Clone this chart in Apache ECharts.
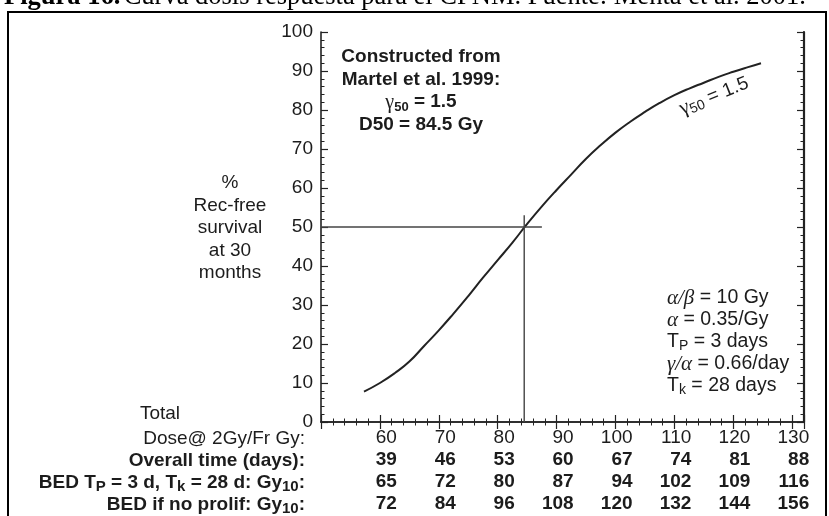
<!DOCTYPE html>
<html><head><meta charset="utf-8">
<script src="https://cdn.jsdelivr.net/npm/echarts@6/dist/echarts.min.js"></script>
<style>html,body{margin:0;padding:0;background:#fff}#c{width:829px;height:516px}</style>
</head><body><div id="c"></div>
<script>
// ---- data ----
const doseTicks = [60, 70, 80, 90, 100, 110, 120, 130];
const overallTime = [39, 46, 53, 60, 67, 74, 81, 88];
const bedProlif = [65, 72, 80, 87, 94, 102, 109, 116];
const bedNoProlif = [72, 84, 96, 108, 120, 132, 144, 156];
const curveDose = [57.3, 60, 62.5, 65, 67.5, 70, 72.5, 75, 77.5, 80, 82.5, 85, 87.5, 90, 92.5, 95, 97.5, 100, 102.5, 105, 107.5, 110, 112.5, 115, 117.5, 120, 122.5, 124.7];
const curveSurvival = [7.8, 10, 12.5, 15.5, 19.5, 23.5, 27.8, 32.3, 37, 41.5, 46, 50.8, 55.3, 59.5, 63.5, 67.5, 71, 74.2, 77, 79.5, 81.8, 83.8, 85.5, 87, 88.5, 89.8, 91, 92];
const hLineDose = [50, 87.5];
const hLineSurv = [50, 50];
const vLineDose = [84.5, 84.5];
const vLineSurv = [0, 53];
const rowLabels = [
  '{n|Dose@ 2Gy/Fr Gy:}',
  '{b|Overall time (days):}',
  '{b|BED T}{bs|P}{b| = 3 d, T}{bs|k}{b| = 28 d: Gy}{bs|10}{b|:}',
  '{b|BED if no prolif: Gy}{bs|10}{b|:}'
];

const FONT = '"Liberation Sans", Arial, Helvetica, sans-serif';
const SERIF = '"Liberation Serif", "Times New Roman", serif';
const TXT = '#1c1c1c';

const chart = echarts.init(document.getElementById('c'), null, {renderer: 'canvas'});

const pair = (xs, ys) => xs.map((x, i) => [x, ys[i]]);

const tickStyle = {show: true, inside: true, length: 7, lineStyle: {color: '#222', width: 1.2}};
const minorStyle = {show: true, splitNumber: 5, length: 3.5, lineStyle: {color: '#222', width: 1}};
const axisLineStyle = {show: true, lineStyle: {color: '#222', width: 1.6}};

const labelRich = {
  d: {fontSize: 19, fontFamily: FONT, color: TXT, width: 34, align: 'right', lineHeight: 22},
  b: {fontSize: 19, fontFamily: FONT, fontWeight: 'bold', color: TXT, width: 34, align: 'right', lineHeight: 22}
};

const option = {
  backgroundColor: '#fff',
  animation: false,
  grid: {left: 321, right: 25, top: 32, bottom: 94, containLabel: false},
  xAxis: [
    {
      type: 'value', min: 50, max: 132, interval: 10, position: 'bottom',
      axisLine: axisLineStyle, axisTick: tickStyle, minorTick: minorStyle,
      splitLine: {show: false},
      axisLabel: {
        show: true, margin: 5, showMinLabel: false, showMaxLabel: false,
        formatter: function (v) {
          const i = doseTicks.indexOf(v);
          if (i < 0) return '';
          return '{d|' + doseTicks[i] + '}\n{b|' + overallTime[i] + '}\n{b|' + bedProlif[i] + '}\n{b|' + bedNoProlif[i] + '}';
        },
        rich: labelRich
      }
    },
    {
      type: 'value', min: 50, max: 132, interval: 10, position: 'top',
      axisLine: axisLineStyle, axisTick: tickStyle, minorTick: minorStyle,
      splitLine: {show: false}, axisLabel: {show: false}
    }
  ],
  yAxis: [
    {
      type: 'value', min: 0, max: 100, interval: 10, position: 'left',
      axisLine: axisLineStyle, axisTick: tickStyle, minorTick: minorStyle,
      splitLine: {show: false},
      axisLabel: {show: true, margin: 8, fontSize: 19, fontFamily: FONT, color: TXT}
    },
    {
      type: 'value', min: 0, max: 100, interval: 10, position: 'right',
      axisLine: {show: true, lineStyle: {color: '#222', width: 2.2}}, axisTick: tickStyle, minorTick: minorStyle,
      splitLine: {show: false}, axisLabel: {show: false}
    }
  ],
  series: [
    {
      type: 'line', xAxisIndex: 0, yAxisIndex: 0, data: pair(curveDose, curveSurvival),
      smooth: true, showSymbol: false, symbol: 'none',
      lineStyle: {color: '#222', width: 2}
    },
    {
      type: 'line', xAxisIndex: 0, yAxisIndex: 0, data: pair(hLineDose, hLineSurv),
      showSymbol: false, symbol: 'none', lineStyle: {color: '#444', width: 1.4}
    },
    {
      type: 'line', xAxisIndex: 0, yAxisIndex: 0, data: pair(vLineDose, vLineSurv),
      showSymbol: false, symbol: 'none', lineStyle: {color: '#444', width: 1.4}
    }
  ],
  graphic: [
    // outer frame
    {type: 'rect', shape: {x: 8, y: 12, width: 818, height: 510}, style: {fill: 'none', stroke: '#000', lineWidth: 2}, silent: true},
    // caption (cropped at top)
    {type: 'text', style: {
      x: 4, y: -3, align: 'left', verticalAlign: 'middle',
      text: '{bf|Figura 16.} {rf|Curva dosis respuesta para el CPNM. Fuente: Mehta et al. 2001.}',
      rich: {
        bf: {fontFamily: SERIF, fontSize: 26.5, fontWeight: 'bold', fill: '#000'},
        rf: {fontFamily: SERIF, fontSize: 26.5, fill: '#000'}
      }
    }},
    // y axis title
    {type: 'text', style: {
      x: 230, y: 228, align: 'center', verticalAlign: 'middle',
      text: '%\nRec-free\nsurvival\nat 30\nmonths',
      font: '19px ' + FONT, lineHeight: 22.5, fill: TXT
    }},
    // top-left annotation
    {type: 'text', style: {
      x: 421, y: 91, align: 'center', verticalAlign: 'middle',
      text: '{t|Constructed from}\n{t|Martel et al. 1999:}\n{g|γ}{gs|50}{t| = 1.5}\n{t|D50 = 84.5 Gy}',
      rich: {
        t: {fontFamily: FONT, fontSize: 19, fontWeight: 'bold', fill: TXT, lineHeight: 22.5},
        g: {fontFamily: SERIF, fontSize: 20, fill: TXT, lineHeight: 22.5},
        gs: {fontFamily: FONT, fontSize: 13, fontWeight: 'bold', fill: TXT, lineHeight: 13, verticalAlign: 'bottom'}
      }
    }},
    // curve label
    {type: 'text', x: 714, y: 96, rotation: 0.38, style: {
      x: 0, y: 0, align: 'center', verticalAlign: 'middle',
      text: '{g|γ}{gs|50}{t| = 1.5}',
      rich: {
        t: {fontFamily: FONT, fontSize: 19, fill: TXT, lineHeight: 22},
        g: {fontFamily: SERIF, fontSize: 21, fill: TXT, lineHeight: 22},
        gs: {fontFamily: FONT, fontSize: 14, fill: TXT, lineHeight: 14, verticalAlign: 'bottom'}
      }
    }},
    // parameter block
    {type: 'text', style: {
      x: 667, y: 287, align: 'left', verticalAlign: 'top',
      text: '{i|α/β}{t| = 10 Gy}\n{i|α}{t| = 0.35/Gy}\n{t|T}{s|P}{t| = 3 days}\n{i|γ/α}{t| = 0.66/day}\n{t|T}{s|k}{t| = 28 days}',
      rich: {
        t: {fontFamily: FONT, fontSize: 19.5, fill: TXT, lineHeight: 22},
        i: {fontFamily: SERIF, fontSize: 21, fontStyle: 'italic', fill: TXT, lineHeight: 22},
        s: {fontFamily: FONT, fontSize: 14, fill: TXT, lineHeight: 14, verticalAlign: 'bottom'}
      }
    }},
    // "Total" heading of the table
    {type: 'text', style: {
      x: 160, y: 414, align: 'center', verticalAlign: 'middle',
      text: 'Total', font: '19px ' + FONT, fill: TXT
    }},
    // table row labels
    {type: 'text', style: {
      x: 305, y: 428, align: 'right', verticalAlign: 'top',
      text: rowLabels.join('\n'),
      rich: {
        n: {fontFamily: FONT, fontSize: 19, fill: TXT, lineHeight: 22},
        b: {fontFamily: FONT, fontSize: 19, fontWeight: 'bold', fill: TXT, lineHeight: 22},
        bs: {fontFamily: FONT, fontSize: 15, fontWeight: 'bold', fill: TXT, lineHeight: 15, verticalAlign: 'bottom'}
      }
    }}
  ]
};
chart.setOption(option);
</script>
</body></html>
